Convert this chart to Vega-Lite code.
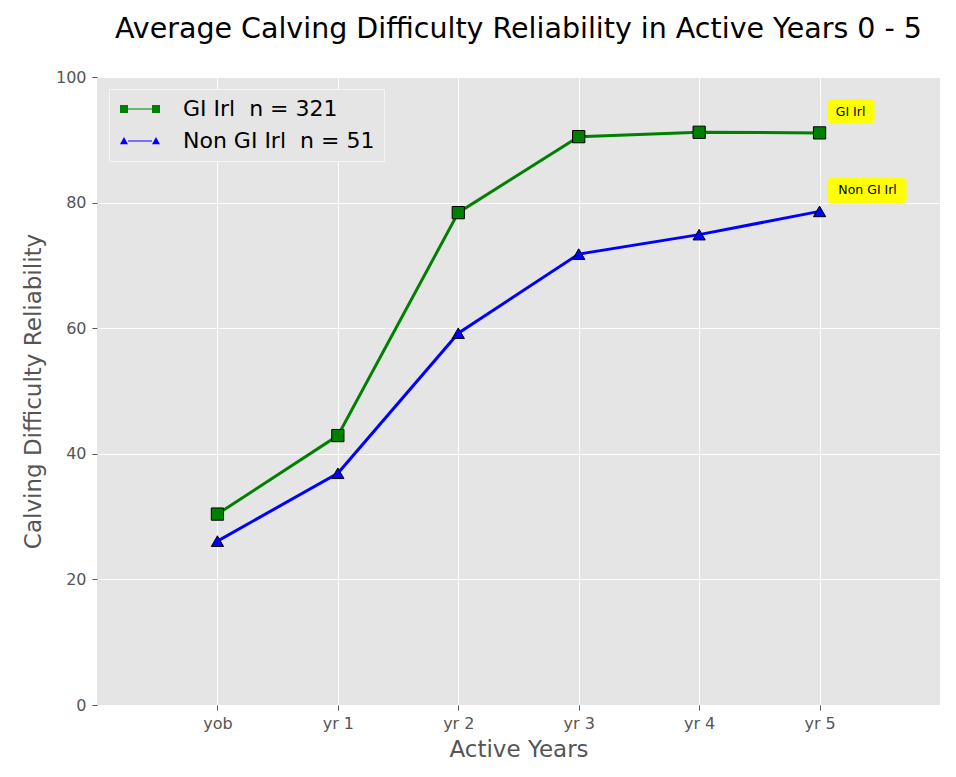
{
  "$schema": "https://vega.github.io/schema/vega-lite/v6.json",
  "autosize": "none",
  "width": 843,
  "height": 628,
  "padding": {"left": 97, "top": 77, "right": 16, "bottom": 72},
  "background": "white",
  "title": {"text": "Average Calving Difficulty Reliability in Active Years 0 - 5", "font": "DejaVu Sans", "fontSize": 28.5, "fontWeight": "normal", "color": "black", "offset": 26, "anchor": "middle"},
  "config": {
    "view": {"fill": "#e5e5e5", "stroke": null},
    "axis": {"labelFont": "DejaVu Sans", "titleFont": "DejaVu Sans", "labelColor": "#555555", "titleColor": "#555555", "labelFontSize": 16, "titleFontSize": 23, "titleFontWeight": "normal", "gridColor": "white", "gridWidth": 1, "domain": false, "tickColor": "#555555", "tickSize": 5, "tickWidth": 1}
  },
  "data": {"values": [
    {"series": "GI Irl", "year": "yob", "value": 30.4},
    {"series": "GI Irl", "year": "yr 1", "value": 42.9},
    {"series": "GI Irl", "year": "yr 2", "value": 78.4},
    {"series": "GI Irl", "year": "yr 3", "value": 90.5},
    {"series": "GI Irl", "year": "yr 4", "value": 91.2},
    {"series": "GI Irl", "year": "yr 5", "value": 91.1},
    {"series": "Non GI Irl", "year": "yob", "value": 26.1},
    {"series": "Non GI Irl", "year": "yr 1", "value": 36.9},
    {"series": "Non GI Irl", "year": "yr 2", "value": 59.2},
    {"series": "Non GI Irl", "year": "yr 3", "value": 71.8},
    {"series": "Non GI Irl", "year": "yr 4", "value": 74.9},
    {"series": "Non GI Irl", "year": "yr 5", "value": 78.6}
  ]},
  "encoding": {
    "x": {"field": "year", "type": "ordinal", "sort": ["yob", "yr 1", "yr 2", "yr 3", "yr 4", "yr 5"], "scale": {"type": "point", "padding": 1}, "axis": {"title": "Active Years", "labelAngle": 0, "labelPadding": 5, "titlePadding": 7, "grid": true}},
    "y": {"field": "value", "type": "quantitative", "scale": {"domain": [0, 100]}, "axis": {"title": "Calving Difficulty Reliability", "values": [0, 20, 40, 60, 80, 100], "labelPadding": 6, "titlePadding": 10, "grid": true}},
    "color": {"field": "series", "type": "nominal", "scale": {"domain": ["GI Irl", "Non GI Irl"], "range": ["#008000", "#0000ff"]},
      "legend": {"title": null, "orient": "none", "legendX": 12, "legendY": 12,
        "labelExpr": "datum.label == 'GI Irl' ? 'GI Irl\u00a0\u00a0n = 321' : 'Non GI Irl\u00a0\u00a0n = 51'",
        "labelFont": "DejaVu Sans", "labelFontSize": 22, "labelColor": "black", "labelLimit": 400,
        "symbolSize": 400, "symbolStrokeWidth": 0, "padding": 9, "rowPadding": 10, "labelOffset": 32, "symbolOffset": 11,
        "fillColor": "#e5e5e5", "strokeColor": "#f4f4f4",
        "encode": {"symbols": {"update": {"shape": {"signal": "datum.value == 'GI Irl' ? 'M-2,-0.4H-1.2V0.4H-2Z M1.2,-0.4H2V0.4H1.2Z M-1.2,-0.06H1.2V0.06H-1.2Z' : 'M-2,0.32L-1.6,-0.4L-1.2,0.32Z M1.2,0.32L1.6,-0.4L2,0.32Z M-1.2,-0.06H1.2V0.06H-1.2Z'"}}}}}
    }
  },
  "layer": [
    {"mark": {"type": "line", "strokeWidth": 3}},
    {"transform": [{"filter": "datum.series == 'GI Irl'"}],
     "mark": {"type": "point", "shape": "square", "filled": true, "size": 150, "stroke": "black", "strokeWidth": 1, "opacity": 1}},
    {"transform": [{"filter": "datum.series == 'Non GI Irl'"}],
     "mark": {"type": "point", "shape": "triangle-up", "filled": true, "size": 150, "stroke": "black", "strokeWidth": 1, "opacity": 1}},
    {"transform": [{"filter": "datum.series == 'GI Irl' && datum.year == 'yr 5'"}],
     "mark": {"type": "rect", "fill": "yellow", "cornerRadius": 5, "xOffset": 8, "x2Offset": 55, "yOffset": -34, "y2Offset": -9},
     "encoding": {"x2": {"field": "year"}, "y2": {"field": "value"}, "color": {"value": "yellow"}}},
    {"transform": [{"filter": "datum.series == 'Non GI Irl' && datum.year == 'yr 5'"}],
     "mark": {"type": "rect", "fill": "yellow", "cornerRadius": 5, "xOffset": 8, "x2Offset": 87, "yOffset": -34, "y2Offset": -8},
     "encoding": {"x2": {"field": "year"}, "y2": {"field": "value"}, "color": {"value": "yellow"}}},
    {"transform": [{"filter": "datum.series == 'GI Irl' && datum.year == 'yr 5'"}],
     "mark": {"type": "text", "font": "DejaVu Sans", "fontSize": 12.5, "align": "center", "baseline": "middle", "dx": 31, "dy": -21},
     "encoding": {"text": {"field": "series"}, "color": {"value": "black"}}},
    {"transform": [{"filter": "datum.series == 'Non GI Irl' && datum.year == 'yr 5'"}],
     "mark": {"type": "text", "font": "DejaVu Sans", "fontSize": 12.5, "align": "center", "baseline": "middle", "dx": 48, "dy": -21},
     "encoding": {"text": {"field": "series"}, "color": {"value": "black"}}}
  ]
}
